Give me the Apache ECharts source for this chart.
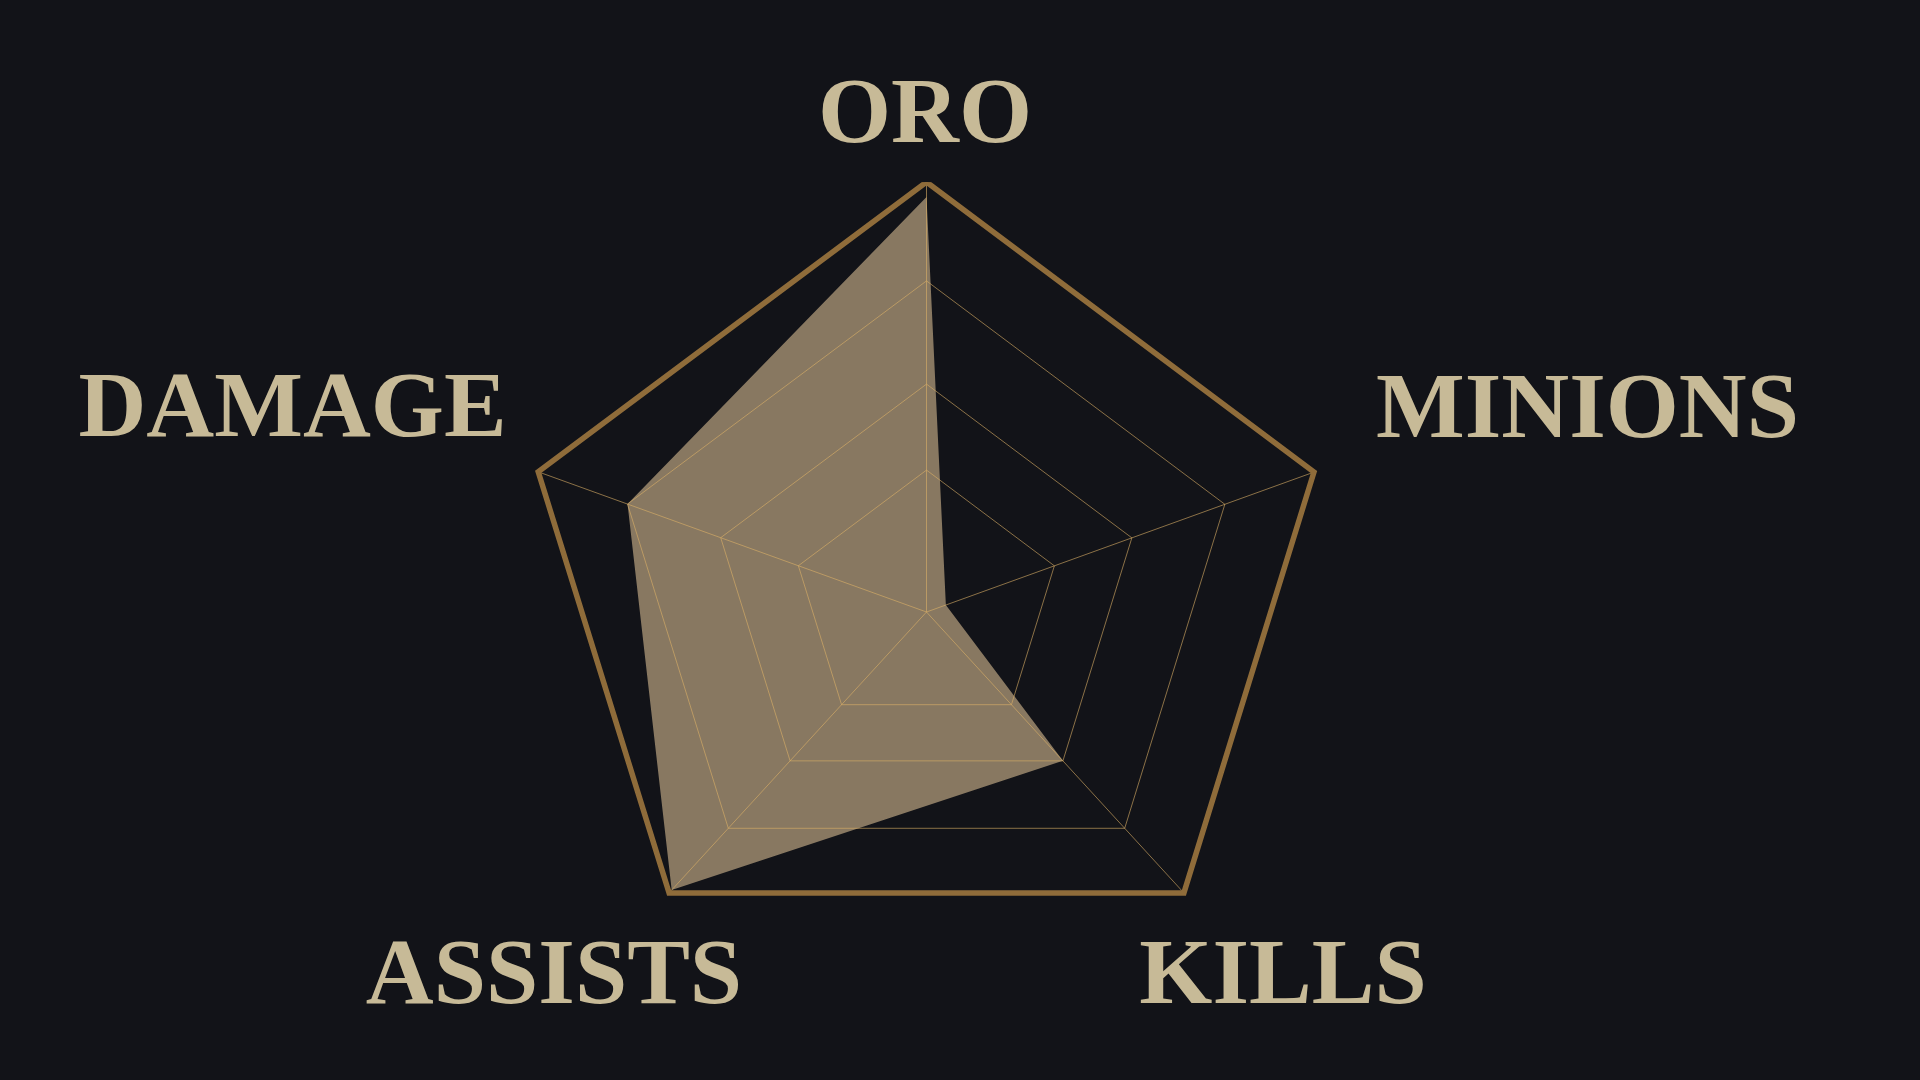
<!DOCTYPE html>
<html>
<head>
<meta charset="utf-8">
<script src="https://cdn.jsdelivr.net/npm/echarts@6/dist/echarts.min.js"></script>
<style>
  html, body { margin: 0; padding: 0; background: #121318; }
  #chart { width: 1920px; height: 1080px; }
</style>
</head>
<body>
<div id="chart"></div>
<script>
// ---- data ----
const indicators = ['ORO', 'MINIONS', 'KILLS', 'ASSISTS', 'DAMAGE'];
const playerValues = [96.5, 5, 53, 99, 77];      // percent of each axis
const ringLevels = [33, 53, 77];                  // inner grid rings (percent)
const frameLevel = 100;                           // outer frame

// ---- layout (axis directions / lengths of the irregular pentagon) ----
const axisAngles = [0, 70.15, 137.5, 222.5, 289.85];   // clockwise from top
const axisReach = [100, 95.8, 88.6, 88.6, 96];          // relative length of each axis
const labelX = [925, 1587.5, 1283, 554, 292.5];
const labelY = [118, 413, 979, 979, 412];

function loop(level, overlap) {
  const pts = indicators.map((_, i) => [level * axisReach[i] / 100, axisAngles[i]]);
  pts.push(pts[0]);
  if (overlap) pts.push(pts[1]);
  return pts;
}
function loopValues(vals) {
  const pts = vals.map((v, i) => [v * axisReach[i] / 100, axisAngles[i]]);
  pts.push(pts[0]);
  return pts;
}

const gridColor = 'rgba(220,176,104,0.6)';
const series = [];

series.push({
  type: 'line', coordinateSystem: 'polar', data: loopValues(playerValues),
  symbol: 'none', silent: true, z: 1, clip: false,
  lineStyle: { width: 0, color: 'rgba(0,0,0,0)' },
  areaStyle: { color: 'rgba(204,178,140,0.64)', opacity: 1 }
});

ringLevels.forEach(l => series.push({
  type: 'line', coordinateSystem: 'polar', data: loop(l, false),
  symbol: 'none', silent: true, z: 3, clip: false,
  lineStyle: { width: 1, color: gridColor }
}));

indicators.forEach((_, i) => series.push({
  type: 'line', coordinateSystem: 'polar',
  data: [[0, axisAngles[i]], [frameLevel * axisReach[i] / 100, axisAngles[i]]],
  symbol: 'none', silent: true, z: 3, clip: false,
  lineStyle: { width: 1, color: gridColor }
}));

series.push({
  type: 'line', coordinateSystem: 'polar', data: loop(frameLevel, true),
  symbol: 'none', silent: true, z: 5, clip: false,
  lineStyle: { width: 5.5, color: '#8f6c3a', join: 'miter' }
});

const chart = echarts.init(document.getElementById('chart'), null, { renderer: 'canvas' });
chart.setOption({
  backgroundColor: '#121318',
  animation: false,
  polar: { center: [926.5, 612], radius: 430 },
  angleAxis: {
    type: 'value', min: 0, max: 360, startAngle: 90, clockwise: true,
    axisLine: { show: false }, axisTick: { show: false }, axisLabel: { show: false }, splitLine: { show: false }
  },
  radiusAxis: {
    type: 'value', min: 0, max: 100,
    axisLine: { show: false }, axisTick: { show: false }, axisLabel: { show: false }, splitLine: { show: false }
  },
  graphic: indicators.map((name, i) => ({
    type: 'text', x: labelX[i], y: labelY[i], silent: true,
    style: {
      text: name, font: 'bold 94px "Liberation Serif", serif', fill: '#c7ba97',
      align: 'center', verticalAlign: 'middle'
    }
  })),
  series: series
});
</script>
</body>
</html>
